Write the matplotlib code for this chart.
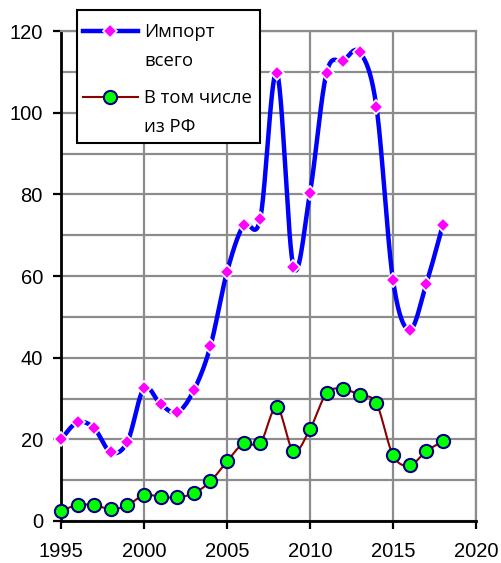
import numpy as np
import matplotlib
matplotlib.use("Agg")
import matplotlib.pyplot as plt
from matplotlib.lines import Line2D
from matplotlib.patches import Rectangle

years = list(range(1995, 2019))
import_total = [20.0, 24.2, 22.7, 16.8, 19.4, 32.5, 28.6, 26.6, 32.0, 42.8,
                61.0, 72.5, 74.0, 109.8, 62.3, 80.4, 109.8, 112.7, 114.8, 101.5,
                59.0, 46.8, 58.0, 72.5]
import_rf = [2.5, 3.9, 3.9, 2.9, 3.8, 6.4, 5.9, 5.8, 6.8, 9.7,
             14.6, 19.0, 19.0, 27.9, 17.1, 22.5, 31.3, 32.3, 30.8, 28.8,
             16.1, 13.6, 17.1, 19.5]
label_total = "Импорт\nвсего"
label_rf = "В том числе\nиз РФ"
x_ticks = [1995, 2000, 2005, 2010, 2015, 2020]
y_ticks = [0, 20, 40, 60, 80, 100, 120]


def smooth(xs, ys, n=30):
    # Catmull-Rom style Bezier smoothing (like spreadsheet "smoothed line")
    P = np.column_stack([xs, ys]).astype(float)
    m = len(P)
    out = []
    for i in range(m - 1):
        p0 = P[i - 1] if i > 0 else P[i]
        p1 = P[i]
        p2 = P[i + 1]
        p3 = P[i + 2] if i + 2 < m else P[i + 1]
        c1 = p1 + (p2 - p0) / 6.0
        c2 = p2 - (p3 - p1) / 6.0
        t = np.linspace(0, 1, n, endpoint=(i == m - 2))[:, None]
        b = ((1 - t) ** 3) * p1 + 3 * ((1 - t) ** 2) * t * c1 + 3 * (1 - t) * t ** 2 * c2 + t ** 3 * p2
        out.append(b)
    out = np.vstack(out)
    return out[:, 0], out[:, 1]


fig = plt.figure(figsize=(5.01, 5.63), dpi=100)
ax = fig.add_axes([61 / 501, 1 - 521 / 563, (476 - 61) / 501, (521 - 31) / 563])

ax.set_xlim(1995, 2020)
ax.set_ylim(0, 120)
ax.set_xticks(x_ticks)
ax.set_yticks(y_ticks)
ax.set_yticks(np.arange(0, 121, 10), minor=True)
ax.grid(True, which="both", color="#8c8c8c", linewidth=1.6)
ax.set_axisbelow(True)
ax.tick_params(axis="y", which="minor", length=0)
ax.tick_params(axis="both", which="major", direction="out", length=6, width=1.6,
               color="black", labelsize=14.5)
ax.tick_params(axis="y", which="major", pad=7)
ax.tick_params(axis="x", which="major", pad=9)
for lab in ax.get_xticklabels() + ax.get_yticklabels():
    lab.set_family("Liberation Sans")
ax.spines["left"].set_color("black")
ax.spines["bottom"].set_color("black")
ax.spines["left"].set_linewidth(2)
ax.spines["bottom"].set_linewidth(2)
ax.spines["top"].set_color("#8c8c8c")
ax.spines["right"].set_color("#8c8c8c")
ax.spines["top"].set_linewidth(1.6)
ax.spines["right"].set_linewidth(1.6)

sx, sy = smooth(years, import_rf)
ax.plot(sx, sy, color="#8b0000", linewidth=1.5, zorder=3, clip_on=False)
ax.plot(years, import_rf, linestyle="none", marker="o", markersize=9.5,
        markerfacecolor="#00ff00", markeredgecolor="#000080", markeredgewidth=1.5,
        zorder=4, clip_on=False)

sx, sy = smooth(years, import_total)
ax.plot(sx, sy, color="#0000ff", linewidth=3.2, zorder=5, clip_on=False)
ax.plot(years, import_total, linestyle="none", marker="D", markersize=7,
        markerfacecolor="#ff00ff", markeredgecolor="white", markeredgewidth=1.2,
        zorder=6, clip_on=False)

# legend box (figure pixel coordinates)
W, H = 501.0, 563.0
def fx(px):
    return px / W
def fy(py):
    return 1 - py / H

fig.add_artist(Rectangle((fx(77), fy(142.5)), fx(260) - fx(77), fy(10.5) - fy(142.5),
                         transform=fig.transFigure, facecolor="white",
                         edgecolor="black", linewidth=1.5, zorder=10))
fig.add_artist(Line2D([fx(83), fx(138)], [fy(31), fy(31)], transform=fig.transFigure,
                      color="#0000ff", linewidth=3.2, zorder=11))
fig.add_artist(Line2D([fx(110)], [fy(31)], transform=fig.transFigure, marker="D",
                      markersize=7, markerfacecolor="#ff00ff", markeredgecolor="white",
                      markeredgewidth=1.2, zorder=12))
fig.add_artist(Line2D([fx(83), fx(138)], [fy(97), fy(97)], transform=fig.transFigure,
                      color="#8b0000", linewidth=1.5, zorder=11))
fig.add_artist(Line2D([fx(110)], [fy(97)], transform=fig.transFigure, marker="o",
                      markersize=9.5, markerfacecolor="#00ff00", markeredgecolor="#000080",
                      markeredgewidth=1.5, zorder=12))
t1, t2 = label_total.split("\n")
t3, t4 = label_rf.split("\n")
for txt, py in [(t1, 32), (t2, 61), (t3, 98), (t4, 127)]:
    fig.text(fx(144), fy(py), txt, ha="left", va="center", fontsize=13.3,
             family="Open Sans", zorder=13)

fig.savefig("out.png", dpi=100)
